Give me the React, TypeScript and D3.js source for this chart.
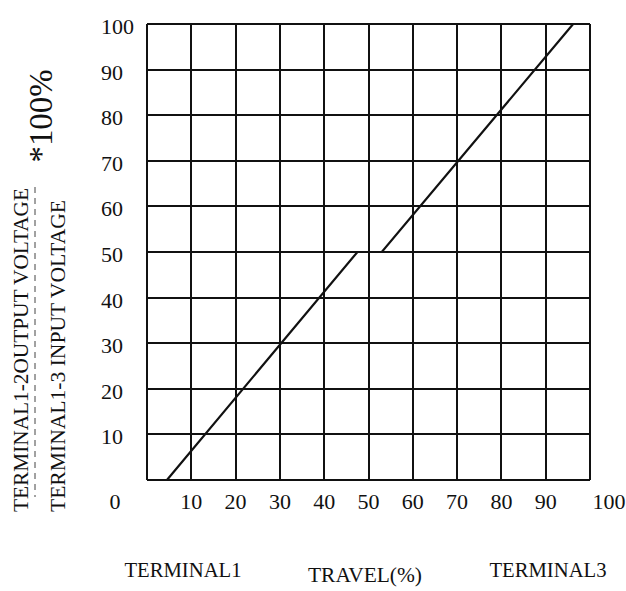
import * as d3 from 'd3';

// grid / tick values (percent)
const travelTicks = [0, 10, 20, 30, 40, 50, 60, 70, 80, 90, 100];
const voltageTicks = [0, 10, 20, 30, 40, 50, 60, 70, 80, 90, 100];
const voltageLabels = ['100', '90', '80', '70', '60', '50', '40', '30', '20', '10'];
const travelLabels = ['0', '10', '20', '30', '40', '50', '60', '70', '80', '90', '100'];

// taper curve read from the sheet (flat step around the centre)
const travel = [4.5, 47.5, 53, 96.2];
const output = [0, 50, 50, 100];

const W = 626;
const H = 591;
const FONT = '"Liberation Serif", "DejaVu Serif", serif';

export default function App() {
  const x = d3.scaleLinear().domain([0, 100]).range([147, 590]);
  const y = d3.scaleLinear().domain([0, 100]).range([480, 24]);

  const pts = travel.map((t, i) => [t, output[i]] as [number, number]);
  const path = d3
    .line<[number, number]>()
    .x((d) => x(d[0]))
    .y((d) => y(d[1]))(pts) ?? '';

  return (
    <div style={{ position: 'absolute', left: 0, top: 0 }}>
      <svg width={W} height={H} viewBox={`0 0 ${W} ${H}`} style={{ background: '#fff', display: 'block' }}>
        {/* grid */}
        <g stroke="#111" strokeWidth={2} shapeRendering="crispEdges">
          {travelTicks.map((t) => (
            <line key={'v' + t} x1={x(t)} x2={x(t)} y1={y(0)} y2={y(100)} />
          ))}
          {voltageTicks.map((v) => (
            <line key={'h' + v} x1={x(0)} x2={x(100)} y1={y(v)} y2={y(v)} />
          ))}
        </g>

        {/* curve */}
        <path d={path} fill="none" stroke="#111" strokeWidth={2.2} />

        {/* y tick labels */}
        <g fontFamily={FONT} fontSize={22} fill="#111">
          {voltageLabels.map((l) => (
            <text key={'yl' + l} x={101} y={y(+l) + 5} dominantBaseline="middle">
              {l}
            </text>
          ))}
        </g>

        {/* x tick labels */}
        <g fontFamily={FONT} fontSize={22} fill="#111" textAnchor="middle">
          {travelLabels.map((l) => {
            const v = +l;
            const dx = v === 0 ? -32 : v === 100 ? 19 : 0;
            return (
              <text key={'xl' + l} x={x(v) + dx} y={509}>
                {l}
              </text>
            );
          })}
        </g>

        {/* bottom captions */}
        <g fontFamily={FONT} fontSize={21} fill="#111" textAnchor="middle">
          <text x={183} y={577} textLength={117} lengthAdjust="spacingAndGlyphs">
            TERMINAL1
          </text>
          <text x={365} y={582} textLength={114} lengthAdjust="spacingAndGlyphs">
            TRAVEL(%)
          </text>
          <text x={548} y={577} textLength={117} lengthAdjust="spacingAndGlyphs">
            TERMINAL3
          </text>
        </g>

        {/* y title: fraction */}
        <g fontFamily={FONT} fontSize={21} fill="#111" textAnchor="middle">
          <text
            transform="translate(28,350) rotate(-90)"
            textLength={324}
            lengthAdjust="spacingAndGlyphs"
          >
            TERMINAL1-2OUTPUT  VOLTAGE
          </text>
          <text
            transform="translate(65,356) rotate(-90)"
            textLength={312}
            lengthAdjust="spacingAndGlyphs"
          >
            TERMINAL1-3 INPUT  VOLTAGE
          </text>
          <text transform="translate(52,116) rotate(-90)" fontSize={33} textLength={93} lengthAdjust="spacingAndGlyphs">
            *100%
          </text>
        </g>
        <line x1={35} x2={35} y1={187} y2={497} stroke="#444" strokeWidth={1} strokeDasharray="6 5" />
      </svg>
    </div>
  );
}
